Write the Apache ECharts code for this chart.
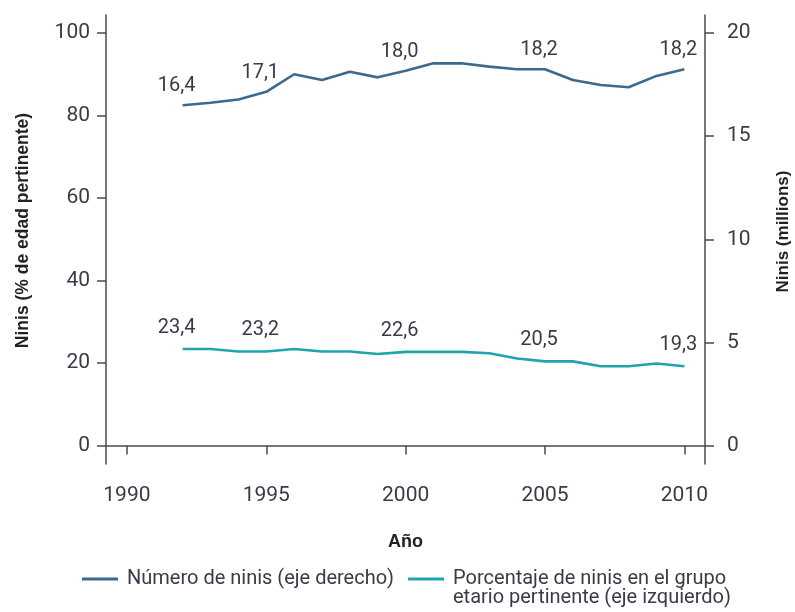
<!DOCTYPE html>
<html>
<head>
<meta charset="utf-8">
<script src="https://cdn.jsdelivr.net/npm/echarts@6/dist/echarts.min.js"></script>
<style>
  html, body { margin: 0; padding: 0; background: #ffffff; }
  #chart { width: 795px; height: 612px; }
</style>
</head>
<body>
<div id="chart"></div>
<script>
// ---- Data ----
const years = [1992, 1993, 1994, 1995, 1996, 1997, 1998, 1999, 2000, 2001, 2002, 2003, 2004, 2005, 2006, 2007, 2008, 2009, 2010];
// Número de ninis (millones, eje derecho)
const numeroNinis = [16.5, 16.62, 16.78, 17.15, 18.0, 17.72, 18.12, 17.85, 18.17, 18.53, 18.53, 18.37, 18.24, 18.24, 17.72, 17.48, 17.37, 17.92, 18.24];
// Porcentaje de ninis (% del grupo etario, eje izquierdo)
const porcentajeNinis = [23.4, 23.4, 22.8, 22.8, 23.4, 22.8, 22.8, 22.2, 22.7, 22.7, 22.7, 22.35, 21.1, 20.4, 20.4, 19.2, 19.2, 19.9, 19.2];
// Printed data labels (by year)
const numeroLabels = {1992: '16,4', 1995: '17,1', 2000: '18,0', 2005: '18,2', 2010: '18,2'};
const porcentajeLabels = {1992: '23,4', 1995: '23,2', 2000: '22,6', 2005: '20,5', 2010: '19,3'};
// Tick values
const xTicks = [1990, 1995, 2000, 2005, 2010];
const leftTicks = [0, 20, 40, 60, 80, 100];
const rightTicks = [0, 5, 10, 15, 20];

const seriesNames = ['Número de ninis (eje derecho)', 'Porcentaje de ninis en el grupo'];

const BLUE = '#3b6a8e';
const TEAL = '#1fa4ae';
const TEXT = '#3a3a48';
const AXIS = '#4a4a4a';
const NUMFONT = 'Roboto, "Noto Sans", sans-serif';
const BOLDFONT = '"Liberation Sans", Arial, sans-serif';

const chart = echarts.init(document.getElementById('chart'), null, {renderer: 'canvas'});

function axisCommon() {
  return {
    axisLine: {show: true, lineStyle: {color: AXIS, width: 1.5}},
    splitLine: {show: false},
  };
}

const option = {
  backgroundColor: '#ffffff',
  animation: false,
  grid: {left: 106, right: 90, top: 15, bottom: 148, outerBoundsMode: 'none', containLabel: false},
  xAxis: Object.assign(axisCommon(), {
    type: 'value',
    min: 1989.25,
    max: 2010.74,
    name: 'Año',
    nameLocation: 'middle',
    nameGap: 69,
    nameTextStyle: {fontFamily: BOLDFONT, fontWeight: 'bold', fontSize: 18, color: '#222'},
    axisTick: {show: true, length: 9, customValues: xTicks, lineStyle: {color: AXIS, width: 1.5}},
    axisLabel: {customValues: xTicks, margin: 21, fontFamily: NUMFONT, fontSize: 21, color: TEXT,
                formatter: v => String(v)}
  }),
  yAxis: [
    Object.assign(axisCommon(), {
      type: 'value',
      position: 'left',
      min: -4.48,
      max: 104.36,
      name: 'Ninis (% de edad pertinente)',
      nameLocation: 'middle',
      nameGap: 74,
      nameTextStyle: {fontFamily: BOLDFONT, fontWeight: 'bold', fontSize: 17.5, color: '#222', padding: [0, 0, 0, 18]},
      axisTick: {show: true, length: 9, customValues: leftTicks, lineStyle: {color: AXIS, width: 1.5}},
      axisLabel: {customValues: leftTicks, margin: 16, fontFamily: NUMFONT, fontSize: 21, color: TEXT}
    }),
    Object.assign(axisCommon(), {
      type: 'value',
      position: 'right',
      min: -0.896,
      max: 20.873,
      name: 'Ninis (millions)',
      nameLocation: 'middle',
      nameGap: 70,
      nameTextStyle: {fontFamily: BOLDFONT, fontWeight: 'bold', fontSize: 17, color: '#222', padding: [0, 0, 0, 16]},
      axisTick: {show: true, length: 9, customValues: rightTicks, lineStyle: {color: AXIS, width: 1.5}},
      axisLabel: {customValues: rightTicks, margin: 22, fontFamily: NUMFONT, fontSize: 21, color: TEXT}
    })
  ],
  legend: {
    left: 77,
    top: 564,
    itemWidth: 36,
    itemHeight: 3,
    itemGap: 14,
    icon: 'rect',
    data: seriesNames,
    textStyle: {fontFamily: NUMFONT, fontSize: 20, color: TEXT, padding: [0, 0, 0, 4]}
  },
  graphic: [{
    type: 'text',
    left: 453,
    top: 588,
    style: {text: 'etario pertinente (eje izquierdo)', font: '20px ' + NUMFONT, fill: TEXT}
  }],
  series: [
    {
      name: seriesNames[0],
      type: 'line',
      yAxisIndex: 1,
      data: years.map((y, i) => [y, numeroNinis[i]]),
      symbol: 'circle',
      symbolSize: 0.1,
      showAllSymbol: true,
      lineStyle: {color: BLUE, width: 2.6},
      itemStyle: {color: BLUE},
      label: {
        show: true, position: 'top', distance: 9, offset: [-6, 0],
        fontFamily: NUMFONT, fontSize: 20, color: TEXT,
        formatter: p => numeroLabels[p.value[0]] || ''
      }
    },
    {
      name: seriesNames[1],
      type: 'line',
      yAxisIndex: 0,
      data: years.map((y, i) => [y, porcentajeNinis[i]]),
      symbol: 'circle',
      symbolSize: 0.1,
      showAllSymbol: true,
      lineStyle: {color: TEAL, width: 2.6},
      itemStyle: {color: TEAL},
      label: {
        show: true, position: 'top', distance: 11, offset: [-6, 0],
        fontFamily: NUMFONT, fontSize: 20, color: TEXT,
        formatter: p => porcentajeLabels[p.value[0]] || ''
      }
    }
  ]
};
chart.setOption(option);
</script>
</body>
</html>
